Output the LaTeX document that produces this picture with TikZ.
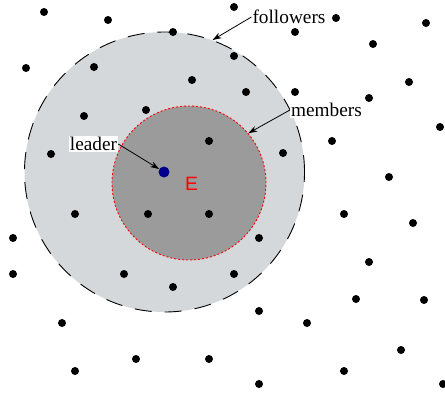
\documentclass[tikz,border=0pt]{standalone}
\usepackage{fontspec}
\setmainfont{Liberation Serif}
\newfontfamily\labelsans{Liberation Sans}
\usetikzlibrary{arrows.meta}
\definecolor{ringgray}{RGB}{213,216,218}
\definecolor{coregray}{RGB}{155,155,155}
\definecolor{leaderblue}{RGB}{0,0,140}
\tikzset{
  agent/.style={circle, fill=black, inner sep=0pt, minimum size=8pt},
  lbl/.style={fill=white, inner sep=1pt, font=\fontsize{19.3}{22}\selectfont},
  pointer/.style={>={Stealth[length=9pt,width=6pt]}, ->, line width=0.8pt}
}
\begin{document}
\begin{tikzpicture}[x=1pt, y=-1pt]
        \useasboundingbox (0,0) rectangle (445,394);
        % followers area and members area
        \node (outer) at (164.5,172) [circle, draw, fill=ringgray, line width=0.9pt,
              dash pattern=on 17pt off 13pt, inner sep=0pt, minimum size=280pt] {};
        \node (inner) at (189,183) [circle, draw=red, fill=coregray, line width=0.9pt,
              dash pattern=on 2pt off 2pt, inner sep=0pt, minimum size=154pt] {};
        % the agents
        \foreach \x/\y [count=\i] in {44/12, 108/20, 234/7, 336/18, 426/23, 173/32,
            295/32, 373/44, 26/68, 94/67, 234/56, 409/82, 192/80, 246/92, 295/92,
            369/98, 440/127, 146/110, 84/116, 332/141, 209/141, 51/154, 283/153,
            389/177, 75/214, 148/214, 209/214, 344/214, 413/223, 13/238, 259/238,
            369/262, 13/274, 124/274, 234/274, 173/287, 356/299, 424/300, 259/311,
            62/323, 307/323, 401/350, 136/359, 209/359, 75/371, 344/371, 259/384,
            443/384}
          \node[agent] (d\i) at (\x,\y) {};
        \node (head) at (164,172) [circle, fill=leaderblue, inner sep=0pt, minimum size=11pt] {};
        \node at (191.5,183.5) [font=\labelsans\fontsize{19.3}{22}\selectfont, text=red] {E};
        % labels
        \node[lbl] (followers) at (289,17) {followers};
        \node[lbl] (members) at (326.5,110) {members};
        \node[lbl] (leader) at (93.5,144) {leader};
        \draw [pointer] (followers.west) -- (outer.70);
        \draw [pointer] (members.west) -- (inner.40);
        \draw [pointer] (leader.east) -- (head);
\end{tikzpicture}
\end{document}
